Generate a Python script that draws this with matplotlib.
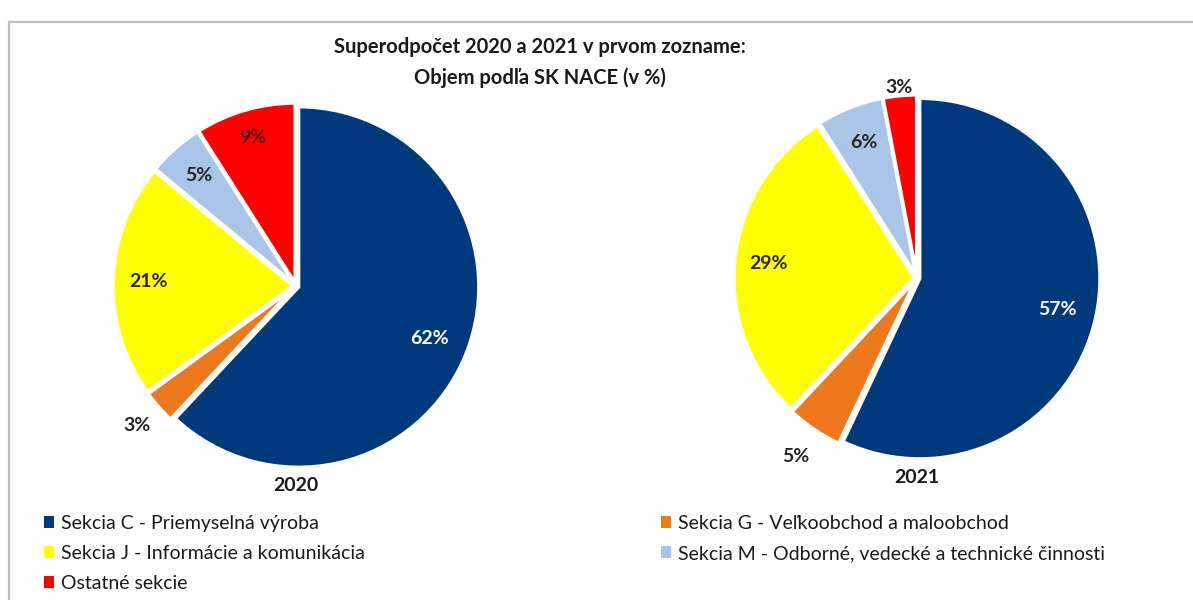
import matplotlib.pyplot as plt
from matplotlib.patches import Patch, Rectangle
import numpy as np

plt.rcParams["font.family"] = ["Lato", "DejaVu Sans"]

# data
sections = [
    "Sekcia C - Priemyselná výroba",
    "Sekcia G - Veľkoobchod a maloobchod",
    "Sekcia J - Informácie a komunikácia",
    "Sekcia M - Odborné, vedecké a technické činnosti",
    "Ostatné sekcie",
]
share_2020 = [62, 3, 21, 5, 9]
share_2021 = [57, 5, 29, 6, 3]
years = ["2020", "2021"]

COLORS = ["#003A7D", "#EC7A1C", "#FFFF00", "#A9C6E8", "#FF0000"]
LABEL_COLORS = ["white", "#262626", "#262626", "#262626", "#5A0A0A"]

W, H = 1193, 600
fig = plt.figure(figsize=(W / 100, H / 100), dpi=100)
fig.patch.set_facecolor("white")

# frame of the original chart area
fig.patches.append(Rectangle((9 / W, -0.1), 1.2, (H - 22) / H + 0.1,
                             transform=fig.transFigure, fill=False,
                             edgecolor="#BDBDBD", linewidth=1.6))


def pie_axes(cx, cy, r):
    return fig.add_axes([(cx - r) / W, (H - cy - r) / H, 2 * r / W, 2 * r / H])


def draw_pie(ax, values, year, label_r):
    wedges, _ = ax.pie(values, colors=COLORS, startangle=90, counterclock=False,
                       radius=0.98, explode=[0.015] * len(values),
                       wedgeprops=dict(edgecolor="white", linewidth=2.5))
    ax.set_xlim(-1, 1)
    ax.set_ylim(-1, 1)
    ax.set_aspect("equal")
    ax.axis("off")
    for w, v, lr, col in zip(wedges, values, label_r, LABEL_COLORS):
        w.set_clip_on(False)
        ang = np.deg2rad((w.theta1 + w.theta2) / 2)
        if lr > 1:
            col = "#262626"
        ax.text(lr * np.cos(ang), lr * np.sin(ang), f"{v}%", ha="center",
                va="center", fontsize=14, fontweight="bold", color=col,
                clip_on=False)
    ax.text(0, -1.04, year, ha="center", va="top", fontsize=14,
            fontweight="bold", color="#1a1a1a", clip_on=False)
    return wedges


ax1 = pie_axes(296, 286, 184)
draw_pie(ax1, share_2020, years[0], [0.78, 1.15, 0.8, 0.8, 0.84])
ax2 = pie_axes(917, 278, 184)
draw_pie(ax2, share_2021, years[1], [0.78, 1.17, 0.81, 0.79, 1.04])

fig.text(540 / W, 1 - 47 / H, "Superodpočet 2020 a 2021 v prvom zozname:",
         ha="center", va="center", fontsize=14.5, fontweight="bold",
         color="#1a1a1a")
fig.text(540 / W, 1 - 78 / H, "Objem podľa SK NACE (v %)",
         ha="center", va="center", fontsize=14.5, fontweight="bold",
         color="#1a1a1a")

order = [0, 2, 4, 1, 3]
handles = [Patch(facecolor=COLORS[i], edgecolor="none") for i in order]
labels = [sections[i] for i in order]
fig.legend(handles, labels, ncol=2, loc="upper left",
           bbox_to_anchor=(36 / W, 1 - 507 / H), frameon=False,
           fontsize=14, handlelength=0.55, handleheight=0.55,
           handletextpad=0.35, labelspacing=0.68, columnspacing=15.2,
           borderaxespad=0, labelcolor="#1a1a1a")

fig.savefig("out.png", dpi=100, facecolor="white")
